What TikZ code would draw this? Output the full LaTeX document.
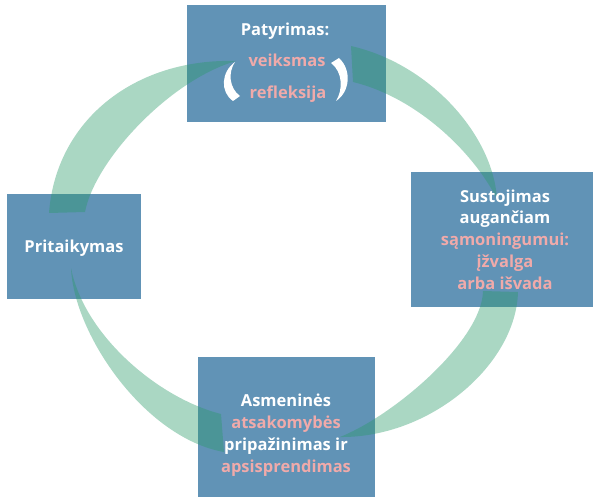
\documentclass[tikz,border=0pt]{standalone}
\usepackage{fontspec}
\setmainfont{Open Sans}
\definecolor{boxblue}{HTML}{6193B6}
\definecolor{arcgreen}{HTML}{2A9A6A}
\definecolor{rose}{HTML}{F0AAAA}
\begin{document}
\begin{tikzpicture}[x=1pt,y=-1pt,
  panel/.style={fill=boxblue, draw=none, inner sep=0pt, anchor=north west},
  wtxt/.style={text=white, font=\bfseries\fontsize{16.5}{20}\selectfont, anchor=base, inner sep=0pt},
  ptxt/.style={wtxt, text=rose},
  band/.style={fill=arcgreen, fill opacity=0.4, draw=none}]
\useasboundingbox (0,0) rectangle (593,497);

% the four stage panels
\node[panel, minimum width=199pt, minimum height=117pt] (top) at (187,5) {};
\node[panel, minimum width=182pt, minimum height=135pt] (right) at (411,172) {};
\node[panel, minimum width=177pt, minimum height=140pt] (bottom) at (198,357) {};
\node[panel, minimum width=134pt, minimum height=105pt] (left) at (7,194) {};

% tapered bands of the cycle, clockwise: wide end, outer edge, tip, inner edge
\fill[band] (351,46) .. controls (430,64) and (493,135) .. (497,199)
  .. controls (472,150) and (415,97) .. (353,82) -- cycle;
\fill[band] (518,292) .. controls (516,365) and (430,438) .. (340,437)
  .. controls (395,415) and (482,340) .. (483,291) -- cycle;
\fill[band] (224,452) .. controls (145,438) and (74,335) .. (71,268)
  .. controls (84,335) and (158,398) .. (221,414) -- cycle;
\fill[band] (49,213) .. controls (56,120) and (135,58) .. (236,61)
  .. controls (170,80) and (95,160) .. (85,212) -- cycle;

% curved marks around the action/reflection pair
\fill[white] (235,62) .. controls (221,72) and (220,92) .. (233,101)
  -- (240,96) .. controls (229,88) and (228,72) .. cycle;
\fill[white] (331,63) -- (339,58) .. controls (352,70) and (350,92) .. (336,101)
  .. controls (343,90) and (343,72) .. cycle;

% labels
\node[wtxt] (t1) at (285,36) {Patyrimas:};
\node[ptxt] (t2) at (287,67) {veiksmas};
\node[ptxt] (t3) at (288,99) {refleksija};

\node[wtxt] (r1) at (505,202) {Sustojimas};
\node[wtxt] (r2) at (505,223.75) {augančiam};
\node[ptxt] (r3) at (505,245.5) {sąmoningumui:};
\node[ptxt] (r4) at (505,267.25) {įžvalga};
\node[ptxt] (r5) at (505,289) {arba išvada};

\node[wtxt] (b1) at (286,406) {Asmeninės};
\node[ptxt] (b2) at (286,428) {atsakomybės};
\node[wtxt] (b3) at (286,450) {pripažinimas ir};
\node[ptxt] (b4) at (286,472) {apsisprendimas};

\node[wtxt] (l1) at (74,252) {Pritaikymas};
\end{tikzpicture}
\end{document}
